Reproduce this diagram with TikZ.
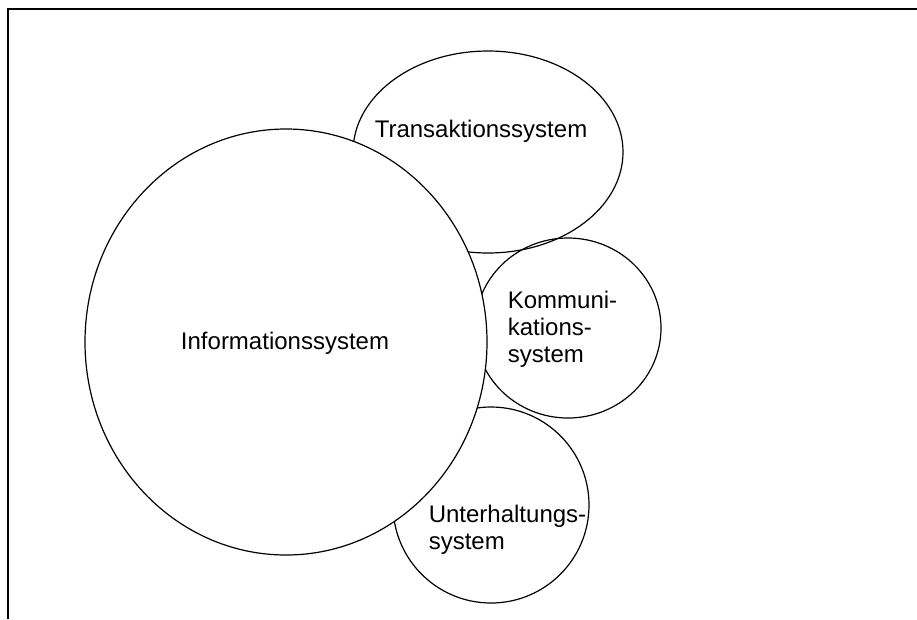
\documentclass[tikz,border=0pt]{standalone}
\usepackage{fontspec}
\setmainfont{Liberation Sans}
\usetikzlibrary{shapes.geometric}

\tikzset{
	every system/.style={draw, ellipse, line width=1.2pt, inner sep=0pt},
	system label/.style={font=\fontsize{24}{27}\selectfont, align=left, inner sep=0pt},
	frame line/.style={line width=2pt}
}

\begin{document}
\begin{tikzpicture}[x=1pt, y=-1pt]
		\useasboundingbox (0,0) rectangle (917,619);
		\draw [frame line] (8,619) -- (8,9) -- (917,9);

		\foreach \n/\cx/\cy/\w/\h in {trans/488/152/270/202, komm/568/328/186/180, unter/491/505/196/196}
		\node [every system/.try, minimum width=\w pt, minimum height=\h pt] (\n) at (\cx,\cy) {};

		\node [every system/.try, fill=white, minimum width=402pt, minimum height=426pt] (info) at (286,342) {};

		\node [system label] (info-text) at (285,343) {Informationssystem};
		\node [system label] (trans-text) at (481,131) {Transaktionssystem};
		\node [system label] (komm-text) at (562.5,329) {Kommuni-\\kations-\\system};
		\node [system label] (unter-text) at (507.5,529.5) {Unterhaltungs-\\system};
	\end{tikzpicture}
\end{document}
